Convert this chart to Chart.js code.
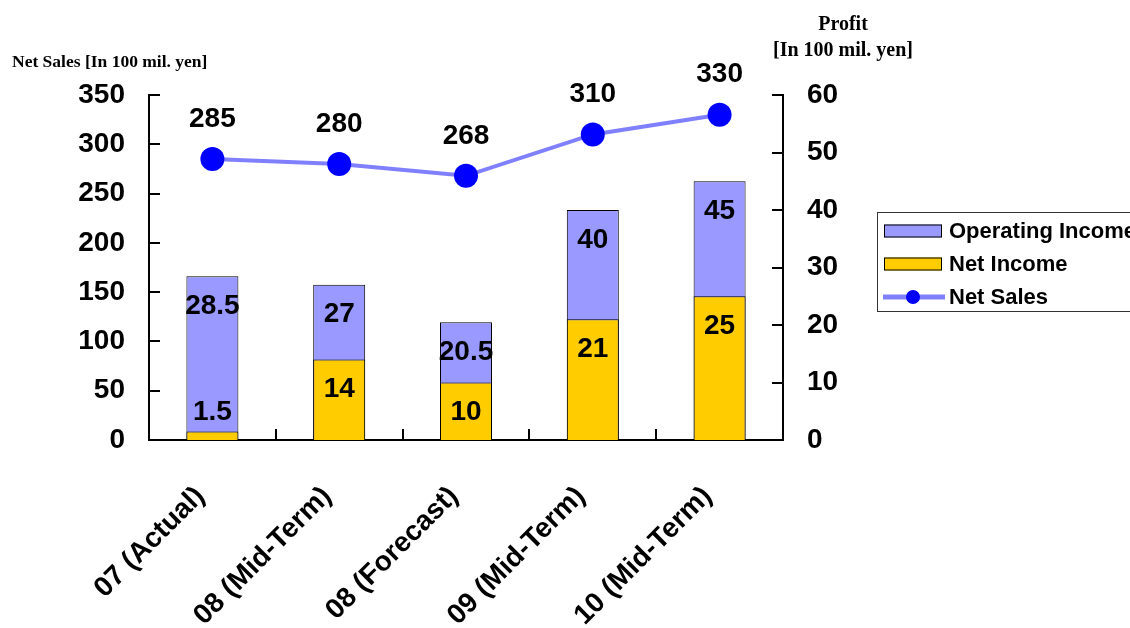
<!DOCTYPE html>
<html>
<head>
<meta charset="utf-8">
<script src="https://cdn.jsdelivr.net/npm/chart.js@4.4.0/dist/chart.umd.min.js"></script>
<style>
  body { margin: 0; background: #fff; }
</style>
</head>
<body>
<canvas id="salesChart" width="1130" height="628"></canvas>
<script>
const categories = ['07 (Actual)', '08 (Mid-Term)', '08 (Forecast)', '09 (Mid-Term)', '10 (Mid-Term)'];
const netSales = [285, 280, 268, 310, 330];
const operatingIncome = [28.5, 27, 20.5, 40, 45];
const netIncome = [1.5, 14, 10, 21, 25];

const sans = "'Liberation Sans', Arial, sans-serif";
const serif = "'Liberation Serif', 'Times New Roman', serif";
const tickFont = { family: sans, size: 28, weight: 'bold' };

// bar / point value labels
const valueLabels = {
  id: 'valueLabels',
  afterDatasetsDraw(chart) {
    const c = chart.ctx;
    c.save();
    c.font = `bold 28px ${sans}`;
    c.fillStyle = '#000';
    c.textAlign = 'center';
    c.textBaseline = 'middle';
    [1, 2].forEach(di => {
      const values = chart.data.datasets[di].data;
      chart.getDatasetMeta(di).data.forEach((bar, i) => {
        // sit just inside the bar top, pushed up when the bar is too short
        const y = Math.min(bar.y + 30, bar.base - 28);
        c.fillText(String(values[i]), bar.x, y);
      });
    });
    chart.getDatasetMeta(0).data.forEach((pt, i) => {
      c.fillText(String(netSales[i]), pt.x, pt.y - 40);
    });
    c.restore();
  }
};

// inward tick marks, axis titles and the boxed legend
const decorations = {
  id: 'decorations',
  afterDraw(chart) {
    const c = chart.ctx;
    const { left, right, bottom } = chart.chartArea;
    const { x, y, y1 } = chart.scales;
    c.save();
    c.strokeStyle = '#000';
    c.lineWidth = 2;
    c.beginPath();
    y.ticks.forEach(t => {
      const py = Math.round(y.getPixelForValue(t.value));
      c.moveTo(left, py); c.lineTo(left + 11, py);
    });
    y1.ticks.forEach(t => {
      const py = Math.round(y1.getPixelForValue(t.value));
      c.moveTo(right - 11, py); c.lineTo(right, py);
    });
    for (let i = 0; i <= categories.length; i++) {
      const px = Math.round(x.getPixelForValue(i - 0.5));
      c.moveTo(px, bottom); c.lineTo(px, bottom - 11);
    }
    c.stroke();

    c.fillStyle = '#000';
    c.textBaseline = 'middle';
    c.font = `bold 17.5px ${serif}`;
    c.textAlign = 'left';
    c.fillText('Net Sales [In 100 mil. yen]', 12, 62);
    c.font = `bold 20px ${serif}`;
    c.textAlign = 'center';
    c.fillText('Profit', 843, 25);
    c.fillText('[In 100 mil. yen]', 843, 51);

    // legend
    const ds = chart.data.datasets;
    const items = [ds[2], ds[1], ds[0]];
    c.lineWidth = 1;
    c.strokeStyle = '#333';
    c.strokeRect(877.5, 212.5, 300, 99);
    c.font = `bold 22px ${sans}`;
    c.textAlign = 'left';
    items.forEach((d, i) => {
      const ry = 231 + i * 33;
      if (d.type === 'line') {
        c.strokeStyle = d.borderColor;
        c.lineWidth = 5;
        c.beginPath();
        c.moveTo(883, ry); c.lineTo(945, ry);
        c.stroke();
        c.fillStyle = d.pointBackgroundColor;
        c.beginPath();
        c.arc(913, ry, 7, 0, Math.PI * 2);
        c.fill();
      } else {
        c.fillStyle = d.backgroundColor;
        c.fillRect(884, ry - 6.5, 58, 13);
        c.strokeStyle = '#000';
        c.lineWidth = 1;
        c.strokeRect(884.5, ry - 6, 57, 12);
      }
      c.fillStyle = '#000';
      c.fillText(d.label, 949, ry + 1);
    });
    c.restore();
  }
};

new Chart(document.getElementById('salesChart').getContext('2d'), {
  type: 'bar',
  data: {
    labels: categories,
    datasets: [
      {
        type: 'line',
        label: 'Net Sales',
        data: netSales,
        yAxisID: 'y',
        borderColor: 'rgb(128, 128, 255)',
        borderWidth: 4,
        pointRadius: 12,
        pointHoverRadius: 12,
        pointBackgroundColor: '#0000ff',
        pointBorderColor: '#0000ff',
        pointBorderWidth: 0,
        tension: 0
      },
      {
        label: 'Net Income',
        data: netIncome,
        yAxisID: 'y1',
        backgroundColor: '#ffcc00',
        borderColor: '#000',
        borderWidth: 1,
        grouped: false,
        barPercentage: 0.41,
        categoryPercentage: 1
      },
      {
        label: 'Operating Income',
        data: operatingIncome,
        yAxisID: 'y1',
        backgroundColor: '#9999ff',
        borderColor: '#000',
        borderWidth: 1,
        grouped: false,
        barPercentage: 0.41,
        categoryPercentage: 1
      }
    ]
  },
  options: {
    responsive: false,
    animation: false,
    layout: { padding: { top: 95, left: 0, right: 0, bottom: 0 } },
    plugins: {
      legend: { display: false },
      tooltip: { enabled: false }
    },
    scales: {
      x: {
        grid: { display: false, drawTicks: false },
        border: { display: true, color: '#000', width: 2 },
        ticks: { font: tickFont, color: '#000', minRotation: 45, maxRotation: 45, padding: 40, labelOffset: -12 },
        afterFit: s => { s.height = 188; }
      },
      y: {
        position: 'left',
        min: 0,
        max: 350,
        grid: { display: false, drawTicks: false },
        border: { display: true, color: '#000', width: 2 },
        ticks: { stepSize: 50, font: tickFont, color: '#000', padding: 24 },
        afterFit: s => { s.width = 149; }
      },
      y1: {
        position: 'right',
        min: 0,
        max: 60,
        grid: { display: false, drawTicks: false },
        border: { display: true, color: '#000', width: 2 },
        ticks: { stepSize: 10, font: tickFont, color: '#000', padding: 24 },
        afterFit: s => { s.width = 347; }
      }
    }
  },
  plugins: [valueLabels, decorations]
});
</script>
</body>
</html>
